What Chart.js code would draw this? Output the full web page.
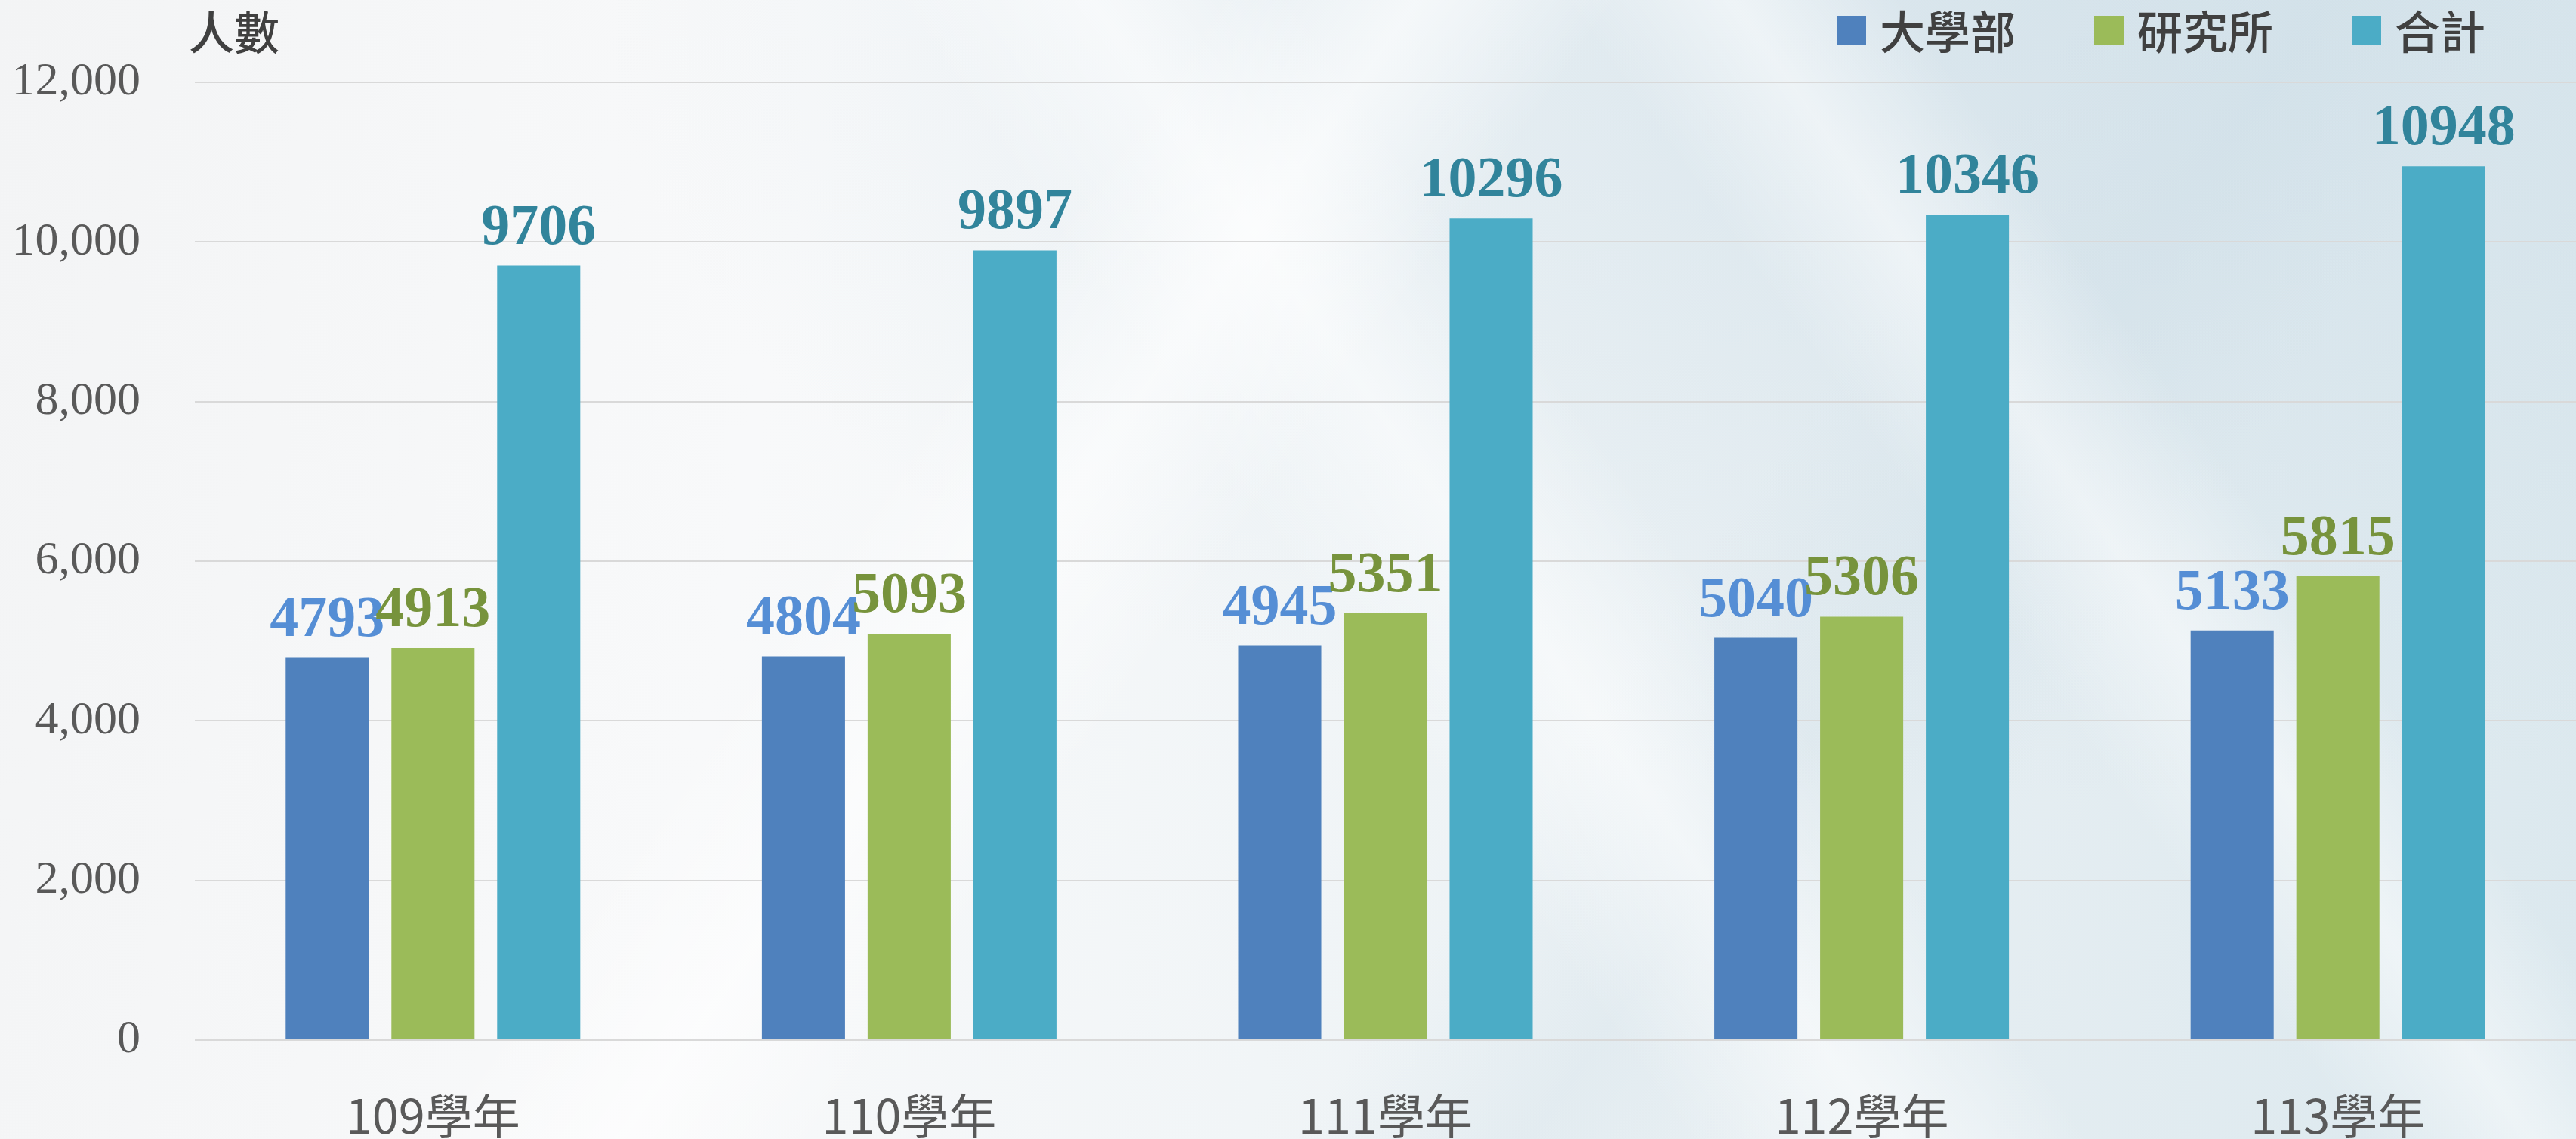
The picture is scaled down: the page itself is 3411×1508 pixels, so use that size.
<!DOCTYPE html>
<html>
<head>
<meta charset="utf-8">
<script src="https://cdn.jsdelivr.net/npm/chart.js@4.4.1/dist/chart.umd.min.js"></script>
<style>
  html, body { margin: 0; padding: 0; overflow: hidden; }
  body {
    width: 3411px; height: 1508px;
    background:
      linear-gradient(125deg, rgba(255,255,255,0) 0%, rgba(255,255,255,0) 36%, rgba(255,255,255,0.6) 42%, rgba(255,255,255,0) 48%, rgba(255,255,255,0) 100%),
      linear-gradient(55deg, rgba(255,255,255,0) 0%, rgba(255,255,255,0) 50%, rgba(255,255,255,0.55) 56%, rgba(255,255,255,0) 62%, rgba(255,255,255,0) 100%),
      linear-gradient(55deg, rgba(255,255,255,0) 70%, rgba(255,255,255,0.5) 75%, rgba(255,255,255,0) 80%),
      linear-gradient(125deg, rgba(200,218,228,0) 62%, rgba(200,218,228,0.25) 69%, rgba(200,218,228,0) 76%),
      radial-gradient(ellipse at 80% 0%, rgba(195,215,227,0.45) 0%, rgba(195,215,227,0) 50%),
      linear-gradient(100deg, #f3f4f5 0%, #f8f9fa 30%, #f1f5f7 52%, #e6eef2 74%, #dbe8ee 100%);
  }
  canvas { display: block; }
</style>
</head>
<body>
<canvas id="chart" width="3411" height="1508"></canvas>
<script>
const labels = ['109學年', '110學年', '111學年', '112學年', '113學年']
const seriesNames = ['大學部', '研究所', '合計']
const undergrad = [4793, 4804, 4945, 5040, 5133]
const graduate = [4913, 5093, 5351, 5306, 5815]
const total = [9706, 9897, 10296, 10346, 10948]
const yTicks = [0, 2000, 4000, 6000, 8000, 10000, 12000]

const barColors = ['#4F81BD', '#9BBB59', '#4BACC6']
const valueColors = ['#558ED5', '#77933C', '#31849B']

const data = {
    labels: labels,
    datasets: [
        { label: seriesNames[0], data: undergrad, backgroundColor: barColors[0] },
        { label: seriesNames[1], data: graduate, backgroundColor: barColors[1] },
        { label: seriesNames[2], data: total, backgroundColor: barColors[2] },
    ],
}

// value labels above each bar
const valueLabels = {
    id: 'valueLabels',
    afterDatasetsDraw(chart) {
        const ctx = chart.ctx
        ctx.save()
        ctx.font = 'bold 76px "Liberation Serif"'
        ctx.textAlign = 'center'
        ctx.textBaseline = 'alphabetic'
        chart.data.datasets.forEach((ds, i) => {
            ctx.fillStyle = valueColors[i]
            chart.getDatasetMeta(i).data.forEach((bar, j) => {
                ctx.fillText(String(ds.data[j]), bar.x, bar.y - 29)
            })
        })
        ctx.restore()
    },
}

// axis unit and legend in the top strip
const topStrip = {
    id: 'topStrip',
    afterDraw(chart) {
        const ctx = chart.ctx
        ctx.save()
        ctx.font = '500 60px "Noto Sans CJK TC"'
        ctx.textBaseline = 'middle'
        ctx.fillStyle = '#404040'
        ctx.fillText('人數', 250, 43)

        let x = 2432
        chart.data.datasets.forEach((ds) => {
            ctx.fillStyle = ds.backgroundColor
            ctx.fillRect(x, 21, 39, 39)
            ctx.fillStyle = '#404040'
            ctx.fillText(ds.label, x + 57, 42)
            x += 57 + ctx.measureText(ds.label).width + 104
        })
        ctx.restore()
    },
}

const config = {
    type: 'bar',
    data: data,
    options: {
        responsive: false,
        animation: false,
        layout: { padding: { top: 97, left: 0, right: 0, bottom: 0 } },
        plugins: {
            legend: { display: false },
            tooltip: { enabled: false },
        },
        datasets: {
            bar: { categoryPercentage: 0.666, barPercentage: 0.786 },
        },
        scales: {
            x: {
                grid: { display: false, drawTicks: false },
                border: { display: false },
                ticks: {
                    color: '#595959',
                    font: { family: '"Noto Sans CJK TC"', size: 63 },
                    padding: 62,
                },
                afterFit(scale) { scale.height = 131 },
            },
            y: {
                min: 0,
                max: 12000,
                afterBuildTicks(scale) { scale.ticks = yTicks.map(v => ({ value: v })) },
                grid: { color: '#d9d9d9', lineWidth: 2, drawTicks: false },
                border: { display: false },
                ticks: {
                    color: '#595959',
                    font: { family: '"Liberation Serif"', size: 62 },
                    padding: 72,
                    callback: v => v.toLocaleString('en-US'),
                },
                afterFit(scale) { scale.width = 258 },
            },
        },
    },
    plugins: [valueLabels, topStrip],
}

const canvas = document.getElementById('chart')
const chart = new Chart(canvas, config)
</script>
</body>
</html>
